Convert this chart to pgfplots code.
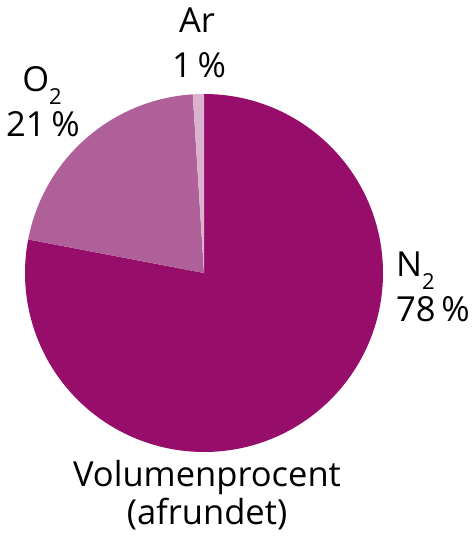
\documentclass[border=0pt]{standalone}
\usepackage{pgfplots}
\pgfplotsset{compat=1.18}
\usepackage{pgfplotstable}
\usepackage{fontspec}
\setmainfont{Open Sans}

\definecolor{nitro}{RGB}{150,14,106}
\definecolor{oxy}{RGB}{176,96,152}
\definecolor{argon}{RGB}{218,178,208}

% volume percent (rounded)
\pgfplotstableread{
gas value
N2  78
O2  21
Ar  1
}\airdata

\pgfplotstablegetelem{0}{value}\of\airdata \pgfmathsetmacro\vN{\pgfplotsretval}
\pgfplotstablegetelem{1}{value}\of\airdata \pgfmathsetmacro\vO{\pgfplotsretval}
\pgfplotstablegetelem{2}{value}\of\airdata \pgfmathsetmacro\vA{\pgfplotsretval}
% slices run clockwise from the top
\pgfmathsetmacro\aN{90-3.6*\vN}
\pgfmathsetmacro\aO{\aN-3.6*\vO}
\pgfmathsetmacro\aA{\aO-3.6*\vA}

\newcommand\lbl{\fontsize{34.5}{37}\selectfont}
\newcommand\sub[1]{\raisebox{-0.36em}{\fontsize{22}{22}\selectfont #1}}

\begin{document}
\begin{tikzpicture}
\begin{axis}[
    x=1pt, y=1pt,
    xmin=0, xmax=473, ymin=0, ymax=549,
    hide axis, clip=false,
]
\path (axis cs:0,0) rectangle (axis cs:473,549);

\fill[nitro] (axis cs:204,276) -- ++(90:179pt)
    arc[start angle=90, end angle=\aN, radius=179pt] -- cycle;
\fill[oxy] (axis cs:204,276) -- ++(\aN:179pt)
    arc[start angle=\aN, end angle=\aO, radius=179pt] -- cycle;
\fill[argon] (axis cs:204,276) -- ++(\aO:179pt)
    arc[start angle=\aO, end angle=\aA, radius=179pt] -- cycle;

\node[anchor=base, inner sep=0pt] at (axis cs:197,516) {\lbl Ar};
\node[anchor=base, inner sep=0pt] at (axis cs:199,471) {\lbl 1\,\%};
\node[anchor=base, inner sep=0pt] at (axis cs:42,457) {\lbl O\sub{2}};
\node[anchor=base, inner sep=0pt] at (axis cs:43,412) {\lbl 21\,\%};
\node[anchor=base west, inner sep=0pt] at (axis cs:396,272) {\lbl N\sub{2}};
\node[anchor=base west, inner sep=0pt] at (axis cs:396,227) {\lbl 78\,\%};
\node[anchor=base, inner sep=0pt] at (axis cs:207,62) {\lbl Volumenprocent};
\node[anchor=base, inner sep=0pt] at (axis cs:207,24) {\lbl (afrundet)};
\end{axis}
\end{tikzpicture}
\end{document}
